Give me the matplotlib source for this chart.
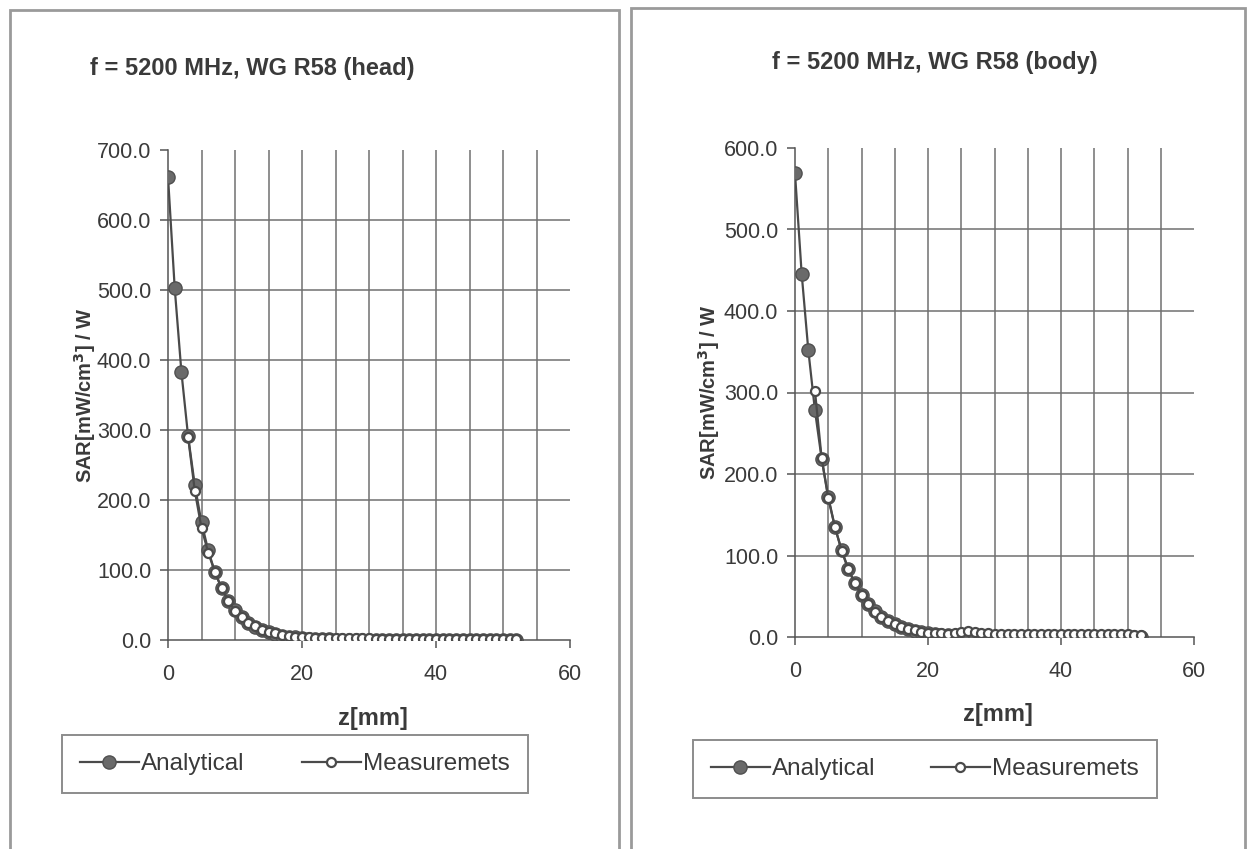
import numpy as np
import matplotlib.pyplot as plt
from matplotlib.patches import Rectangle
from matplotlib.ticker import FormatStrFormatter

plt.rcParams['font.family'] = ['Liberation Sans', 'DejaVu Sans']

# Data
z_analytical = np.arange(0, 53)
z_measured = np.arange(3, 53)

head_analytical = [662, 503, 383, 291, 221, 168, 128, 97, 74, 56,
                   43, 33, 25, 19, 14.5, 11, 8.4, 6.4, 4.9, 3.7,
                   2.8, 2.1, 1.6, 1.2, 0.9, 0.7, 0.5, 0.4, 0.3, 0.2,
                   0.2, 0.1, 0.1, 0.1, 0.1, 0.1, 0.1, 0.1, 0.1, 0.1,
                   0.1, 0.1, 0.1, 0.1, 0.1, 0.1, 0.1, 0.1, 0.1, 0.1,
                   0.1, 0.1, 0.1]
head_measured = [290, 213, 160, 125, 97, 74, 56, 42, 33, 25,
                 19.5, 15, 12, 9.5, 7.5, 6, 5, 4.2, 3.6, 3.2,
                 2.9, 2.7, 2.5, 2.4, 2.3, 2.3, 2.2, 2.2, 2.1, 2.1,
                 2.1, 2.0, 2.0, 2.0, 2.0, 2.0, 2.0, 2.0, 2.0, 2.0,
                 2.0, 2.0, 2.0, 2.0, 2.0, 2.0, 2.0, 2.0, 2.0, 2.0]

body_analytical = [569, 446, 352, 278, 219, 172, 135, 107, 84, 66,
                   52, 41, 32, 25, 20, 15.5, 12.2, 9.6, 7.5, 5.9,
                   4.7, 3.7, 2.9, 2.3, 1.8, 1.4, 1.1, 0.9, 0.7, 0.5,
                   0.4, 0.3, 0.3, 0.2, 0.2, 0.2, 0.1, 0.1, 0.1, 0.1,
                   0.1, 0.1, 0.1, 0.1, 0.1, 0.1, 0.1, 0.1, 0.1, 0.1,
                   0.1, 0.1, 0.1]
body_measured = [302, 220, 170, 135, 106, 83, 66, 51, 40, 31,
                 24.5, 19.5, 15.5, 12.5, 10, 8, 6.5, 5.5, 4.8, 4.3,
                 4.0, 4.5, 6.0, 7.0, 6.0, 5.0, 4.5, 4.2, 4.0, 3.8,
                 3.7, 3.6, 3.5, 3.5, 3.4, 3.4, 3.3, 3.3, 3.3, 3.2,
                 3.2, 3.2, 3.2, 3.1, 3.1, 3.1, 3.1, 3.1, 3.0, 3.0]

titles = ["f = 5200 MHz, WG R58 (head)", "f = 5200 MHz, WG R58 (body)"]
y_max = [700, 600]

text_color = "#3a3a3a"
line_color = "#4a4a4a"
grid_color = "#707070"

fig = plt.figure(figsize=(12.5, 8.49), dpi=100)

# Panel frames (the two chart objects), running off the bottom of the scan
fig.patches.append(Rectangle((10 / 1250, -0.02), 609 / 1250, 1.008,
                             transform=fig.transFigure, fill=False,
                             edgecolor="#9a9a9a", lw=2))
fig.patches.append(Rectangle((631 / 1250, -0.02), 614 / 1250, 1.011,
                             transform=fig.transFigure, fill=False,
                             edgecolor="#9a9a9a", lw=2))

# plot area positions in pixels: left, right, bottom(y=0), top(y=max)
areas = [(168, 570, 640, 150), (795, 1194, 637, 148)]
title_pos = [(252, 68), (935, 62)]
legend_boxes = [(62, 528, 735, 793), (693, 1157, 740, 798)]
ylabel_x = [85, 709]
xlabel_y = [718, 714]

series = [(head_analytical, head_measured), (body_analytical, body_measured)]

for i in range(2):
    l, r, b, t = areas[i]
    ax = fig.add_axes([l / 1250, 1 - b / 849, (r - l) / 1250, (b - t) / 849])
    analytical, measured = series[i]

    ax.plot(z_analytical, analytical, color=line_color, lw=1.6,
            marker="o", markersize=9.5, markerfacecolor="#6a6a6a",
            markeredgecolor="#505050", label="Analytical", zorder=3)
    ax.plot(z_measured, measured, color=line_color, lw=1.6,
            marker="o", markersize=6.5, markerfacecolor="white",
            markeredgecolor="#4a4a4a", markeredgewidth=1.6,
            label="Measuremets", zorder=4)

    ax.set_xlim(0, 60)
    ax.set_ylim(0, y_max[i])
    ax.set_xticks([0, 20, 40, 60])
    ax.set_yticks(np.arange(0, y_max[i] + 1, 100))
    ax.yaxis.set_major_formatter(FormatStrFormatter("%.1f"))

    # grid: vertical every 5 mm (not at 0 / 60), horizontal every 100 (not at top)
    for xv in range(5, 60, 5):
        ax.axvline(xv, color=grid_color, lw=1.1, zorder=1)
    for yv in range(100, y_max[i], 100):
        ax.axhline(yv, color=grid_color, lw=1.1, zorder=1)

    for side in ["top", "right"]:
        ax.spines[side].set_visible(False)
    for side in ["left", "bottom"]:
        ax.spines[side].set_color("#555555")
        ax.spines[side].set_linewidth(1.1)
    ax.tick_params(direction="out", length=6, width=1.1, color="#555555",
                   labelsize=15.5, labelcolor=text_color, pad=6)
    ax.tick_params(axis="x", pad=11)

    tx, ty = title_pos[i]
    fig.text(tx / 1250, 1 - ty / 849, titles[i],
             ha="center", va="center", fontsize=17, fontweight="bold",
             color=text_color)
    fig.text(ylabel_x[i] / 1250, 1 - (b + t) / 2 / 849,
             "SAR[mW/cm$^\\mathbf{3}$] / W", rotation=90, ha="center",
             va="center", fontsize=14.5, fontweight="bold", color=text_color)
    fig.text((l + r) / 2 / 1250 + 0.003, 1 - xlabel_y[i] / 849, "z[mm]",
             ha="center", va="center", fontsize=17, fontweight="bold",
             color=text_color)

    lx0, lx1, ly0, ly1 = legend_boxes[i]
    leg = ax.legend(loc="center", ncol=2, mode="expand",
                    bbox_to_anchor=(lx0 / 1250, 1 - ly1 / 849,
                                    (lx1 - lx0) / 1250, (ly1 - ly0) / 849),
                    bbox_transform=fig.transFigure, frameon=True,
                    fancybox=False, fontsize=17.5, handlelength=2.4,
                    handletextpad=0.1, borderpad=0.75, borderaxespad=0)
    leg.get_frame().set_edgecolor("#707070")
    leg.get_frame().set_linewidth(1.4)
    for txt in leg.get_texts():
        txt.set_color(text_color)

fig.savefig("out.png", dpi=100, facecolor="white")
